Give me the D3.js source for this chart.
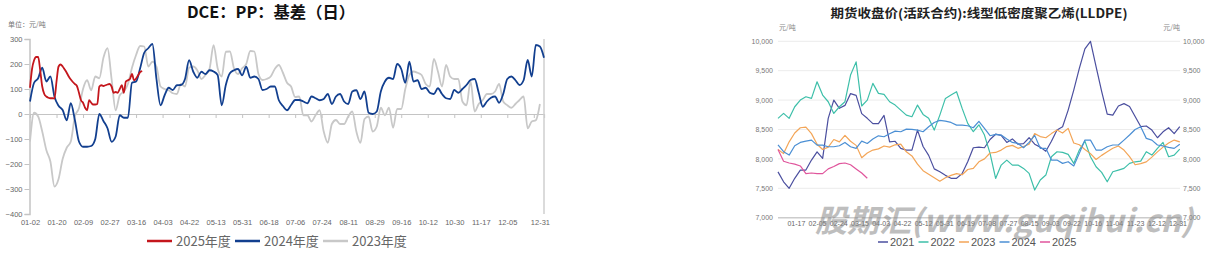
<!DOCTYPE html>
<html>
<head>
<meta charset="utf-8">
<script src="https://cdn.jsdelivr.net/npm/d3@7/dist/d3.min.js"></script>
<style>
body { margin: 0; background: #fff; }
svg { display: block; font-family: "Liberation Sans", Arial, sans-serif; }
</style>
</head>
<body>
<div id="chart"></div>
<script>
// ---- left chart: DCE PP basis, x = trading day index
var basisLabels = ["01-02", "01-20", "02-09", "02-27", "03-16", "04-03", "04-22", "05-13", "05-31", "06-18",
	"07-06", "07-24", "08-11", "08-29", "09-16", "10-12", "10-30", "11-17", "12-05", "12-31"];
var basisYTicks = [-400, -300, -200, -100, 0, 100, 200, 300];
var basisYears = ["2025年度", "2024年度", "2023年度"];

// 2025: one value per trading day
var basis2025 = [105, 180, 215, 228, 228, 175, 110, 80, 70, 65, 63, 63, 62, 130, 190, 198, 190, 178, 165, 150,
	138, 128, 120, 112, 85, 55, 45, 25, 15, 55, 45, 38, 38, 40, 110, 115, 112, 115, 118, 120,
	110, 85, 88, 85, 100, 115, 85, 130, 135, 140, 160, 135, 142, 155, 168, 172];
// 2024 / 2023: one value every 2 trading days
var basis2024 = [50, 125, 143, 185, 130, 150, 69, 33, 16, -25, 43, -24, -110, -131, -131, -128, -100, 0, -28, -57,
	-111, -90, -5, -15, -15, 125, 130, 183, 245, 263, 280, 140, 35, 75, 105, 96, 115, 116, 140, 215,
	170, 145, 169, 160, 175, 170, 156, 35, 116, 163, 175, 180, 155, 189, 145, 150, 140, 96, 100, 110,
	110, 55, 32, 15, 36, 56, 56, 50, 43, 70, 63, 55, 60, 80, 40, 70, 80, 50, 40, 90,
	95, 60, 90, 5, 0, 10, 90, 130, 145, 140, 200, 180, 125, 209, 130, 135, 100, 105, 85, 80,
	103, 80, 63, 60, 96, 85, 100, 116, 136, 140, 85, 29, 50, 65, 70, 45, 80, 140, 150, 135,
	116, 135, 216, 150, 276, 270, 225];
var basis2023 = [-110, 5, -10, -70, -144, -190, -290, -260, -180, -135, -110, -10, 23, 100, 135, 95, 150, 143, 225, 263,
	140, 15, 75, 90, 120, 185, 236, 272, 270, 190, 209, 190, 110, 100, 95, 83, 80, 120, 110, 185,
	190, 175, 140, 156, 180, 275, 183, 150, 249, 250, 183, 160, 183, 200, 252, 250, 160, 136, 140, 150,
	180, 196, 165, 125, 110, 68, 70, -5, -5, -30, -5, 15, -70, -115, -40, -24, -40, -40, -10, 10,
	-70, -115, -20, -10, -70, -50, 25, -5, 25, -55, 20, 20, 100, 156, 170, 165, 156, 120, 110, 220,
	170, 110, 196, 150, 140, 140, 50, 35, 130, 10, 40, 56, 80, 80, 90, 120, 50, 35, 25, 40,
	56, 70, -57, -30, -25, 40];

// ---- right chart: LLDPE active contract close, x = day of year, one value every 5 days
var priceLabels = ["01-17", "02-05", "02-24", "03-15", "04-03", "04-22", "05-12", "05-31", "06-19", "07-08",
	"07-27", "08-15", "09-03", "09-22", "10-16", "11-04", "11-23", "12-12", "12-31"];
var priceYTicks = [7000, 7500, 8000, 8500, 9000, 9500, 10000];
var priceYears = ["2021", "2022", "2023", "2024", "2025"];
var price2021 = [7780, 7610, 7500, 7670, 7810, 7810, 7980, 8120, 8010, 8690, 9000, 8860, 8910, 9110, 9080, 8770, 8690, 8600,
	8600, 8740, 8290, 8300, 8180, 8150, 8150, 8490, 8210, 8060, 7830, 7780, 7720, 7670, 7670, 7750, 7950, 8190,
	8200, 8190, 8330, 8420, 8400, 8280, 8340, 8250, 8260, 8360, 8250, 8200, 8130, 8300, 8490, 8547, 8830, 9170,
	9540, 9870, 10000, 9570, 9150, 8760, 8745, 8900, 8940, 8890, 8720, 8550, 8560, 8490, 8360, 8460, 8530, 8430, 8550];
var price2022 = [8690, 8774, 8690, 8887, 9000, 9057, 9029, 9312, 9085, 8972, 8774, 8887, 8972, 9426, 9650, 8900, 9000, 9284,
	9114, 9097, 8972, 8915, 8830, 8745, 8717, 8915, 8757, 8690, 8490, 8745, 9029, 9085, 9142, 8859, 8604, 8462,
	8580, 8405, 8093, 7668, 7895, 7980, 7895, 7895, 7838, 7753, 7470, 7640, 7725, 8037, 8122, 8110, 8076, 7923,
	8150, 8303, 8037, 7866, 7770, 7611, 7781, 7810, 7838, 7923, 7951, 7963, 8122, 8065, 8178, 8280, 8037, 8065, 8167];
var price2023 = [8160, 8090, 8290, 8440, 8530, 8540, 8430, 8250, 8160, 8200, 8330, 8290, 8400, 8300, 8230, 8020, 8100, 8150,
	8170, 8220, 8200, 8240, 8250, 8120, 8050, 7910, 7800, 7740, 7680, 7620, 7680, 7720, 7750, 7730, 7820, 7840,
	7950, 8000, 8100, 8110, 8150, 8210, 8230, 8180, 8210, 8250, 8430, 8380, 8360, 8430, 8490, 8440, 8519, 8270,
	8240, 8160, 8090, 7990, 8060, 8120, 8180, 8220, 8150, 8040, 7900, 7920, 7950, 8030, 8120, 8200, 8270, 8320, 8290];
var price2024 = [8240, 8122, 8065, 8224, 8280, 8303, 8320, 8235, 8235, 8207, 8207, 8224, 8280, 8207, 8178, 8303, 8263, 8337,
	8393, 8377, 8428, 8473, 8462, 8507, 8501, 8490, 8462, 8547, 8620, 8655, 8643, 8620, 8575, 8575, 8564, 8530,
	8640, 8520, 8394, 8417, 8405, 8337, 8280, 8263, 8190, 8280, 8400, 8180, 8180, 7980, 7980, 7924, 7952, 7880,
	8094, 8320, 8320, 8150, 8150, 8207, 8236, 8236, 8320, 8406, 8500, 8548, 8349, 8320, 8236, 8220, 8196, 8179, 8250];
var price2025 = [8160, 7960, 7930, 7910, 7880, 7750, 7760, 7750, 7750, 7830, 7870, 7920, 7930, 7900, 7830, 7760, 7670];

var svg = d3.select("#chart").append("svg")
	.attr("width", 1213)
	.attr("height", 253);

var styleAxisText = function(_g, _size, _color)	{
	_g.selectAll("text")
	.style("font-size", _size)
	.style("fill", _color)
	.style("font-family", "\"Liberation Sans\", Arial, sans-serif");
}

// ================= left chart =================
var bx = d3.scaleLinear().domain([0, 252]).range([30, 544]);
var by = d3.scaleLinear().domain([-400, 300]).range([214, 39]);

var tickIdx = function(_i)	{
	return _i === basisLabels.length - 1 ? 250 : _i * 13;
}

svg.append("text")
.attr("x", 271)
.attr("y", 18)
.attr("text-anchor", "middle")
.style("font-family", "\"Noto Sans CJK SC\", sans-serif")
.style("font-weight", "bold")
.style("font-size", "16px")
.attr("textLength", 168)
.attr("lengthAdjust", "spacingAndGlyphs")
.style("fill", "#111")
.text("DCE：PP：基差（日）");

svg.append("text")
.attr("x", 8)
.attr("y", 27)
.style("font-family", "\"Noto Sans CJK SC\", sans-serif")
.style("font-size", "7px")
.style("fill", "#777")
.text("单位：元/吨");

var yAxisL = svg.append("g")
.attr("transform", "translate(29.5, 0)")
.call(d3.axisLeft(by).tickValues(basisYTicks).tickSize(5).tickPadding(2));
yAxisL.select(".domain").attr("stroke", "#c4c4c4").attr("stroke-width", 1.5);
yAxisL.selectAll(".tick line").attr("stroke", "#c4c4c4");
styleAxisText(yAxisL, "7.5px", "#666");

var xTicksL = d3.range(0, 20).map(function(_k) { return _k * 13; });
var xAxisL = svg.append("g")
.attr("transform", "translate(0, " + by(0) + ")")
.call(d3.axisBottom(bx).tickValues(xTicksL).tickSize(4).tickFormat(""));
xAxisL.select(".domain").attr("stroke", "#c4c4c4").attr("stroke-width", 1.2);
xAxisL.selectAll(".tick line").attr("stroke", "#c4c4c4");

var xLabelsL = svg.append("g")
.attr("transform", "translate(0, 218)")
.call(d3.axisBottom(bx)
	.tickValues(basisLabels.map(function(_d, _i) { return tickIdx(_i); }))
	.tickSize(0)
	.tickPadding(2)
	.tickFormat(function(_d, _i) { return basisLabels[_i]; }));
xLabelsL.select(".domain").remove();
styleAxisText(xLabelsL, "7.5px", "#666");

svg.append("line")
.attr("x1", bx(252)).attr("x2", bx(252))
.attr("y1", by(300)).attr("y2", by(-400))
.attr("stroke", "#cfcfcf")
.attr("stroke-width", 1.5);

var basisLine = function(_step)	{
	return d3.line()
	.x(function(_d, _i) { return bx(_i * _step); })
	.y(function(_d) { return by(_d); })
	.curve(d3.curveMonotoneX);
}

var basisSeries = [
	{ name: basisYears[2], values: basis2023, step: 2, color: "#c8c8c8" },
	{ name: basisYears[1], values: basis2024, step: 2, color: "#123f8f" },
	{ name: basisYears[0], values: basis2025, step: 1, color: "#c4161c" }
];

basisSeries.forEach(function(_s)	{
	svg.append("path")
	.datum(_s.values)
	.attr("fill", "none")
	.attr("stroke", _s.color)
	.attr("stroke-width", 1.8)
	.attr("stroke-linejoin", "round")
	.attr("d", basisLine(_s.step));
});

var legendL = svg.selectAll(".legendL")
.data(basisSeries.slice().reverse())
.enter().append("g")
.attr("class", "legendL")
.attr("transform", function(_d, _i) { return "translate(" + (147 + _i * 88) + ", 241)"; });

legendL.append("line")
.attr("x1", 0).attr("x2", 25)
.attr("y1", 0).attr("y2", 0)
.attr("stroke", function(_d) { return _d.color; })
.attr("stroke-width", 2.5);

legendL.append("text")
.attr("x", 29)
.attr("y", 4.5)
.style("font-family", "\"Noto Sans CJK SC\", sans-serif")
.style("font-size", "13px")
.style("fill", "#666")
.text(function(_d) { return _d.name; });

// ================= right chart =================
var px = d3.scaleLinear().domain([0, 362]).range([778, 1182]);
var py = d3.scaleLinear().domain([7000, 10000]).range([217.7, 41.3]);

svg.append("text")
.attr("x", 979)
.attr("y", 18)
.attr("text-anchor", "middle")
.style("font-family", "\"Noto Sans CJK SC\", sans-serif")
.style("font-weight", "bold")
.style("font-size", "12.5px")
.attr("textLength", 297)
.attr("lengthAdjust", "spacingAndGlyphs")
.style("fill", "#222")
.text("期货收盘价(活跃合约):线型低密度聚乙烯(LLDPE)");

svg.append("text")
.attr("x", 779)
.attr("y", 30)
.style("font-family", "\"Noto Sans CJK SC\", sans-serif")
.style("font-size", "7px")
.style("fill", "#888")
.text("元/吨");

svg.append("text")
.attr("x", 1180)
.attr("y", 30)
.attr("text-anchor", "end")
.style("font-family", "\"Noto Sans CJK SC\", sans-serif")
.style("font-size", "7px")
.style("fill", "#888")
.text("元/吨");

svg.selectAll(".grid")
.data(priceYTicks)
.enter().append("line")
.attr("class", "grid")
.attr("x1", 778).attr("x2", 1180)
.attr("y1", function(_d) { return py(_d); })
.attr("y2", function(_d) { return py(_d); })
.attr("stroke", function(_d) { return _d === 7000 ? "#cccccc" : "#ececec"; })
.attr("stroke-width", function(_d) { return _d === 7000 ? 1.5 : 1; });

var yAxisR1 = svg.append("g")
.attr("transform", "translate(775, 0)")
.call(d3.axisLeft(py).tickValues(priceYTicks).tickSize(0).tickPadding(2).tickFormat(d3.format(",")));
yAxisR1.select(".domain").remove();
styleAxisText(yAxisR1, "7px", "#777");

var yAxisR2 = svg.append("g")
.attr("transform", "translate(1181, 0)")
.call(d3.axisRight(py).tickValues(priceYTicks).tickSize(0).tickPadding(2).tickFormat(d3.format(",")));
yAxisR2.select(".domain").remove();
styleAxisText(yAxisR2, "7px", "#777");

var xAxisR = svg.append("g")
.attr("transform", "translate(0, 219)")
.call(d3.axisBottom(px)
	.tickValues(priceLabels.map(function(_d, _i) { return 16 + _i * 19; }))
	.tickSize(0)
	.tickPadding(2)
	.tickFormat(function(_d, _i) { return priceLabels[_i]; }));
xAxisR.select(".domain").remove();
styleAxisText(xAxisR, "7px", "#666");

var priceLine = d3.line()
.x(function(_d, _i) { return px(_i * 5); })
.y(function(_d) { return py(_d); });

var priceSeries = [
	{ name: priceYears[0], values: price2021, color: "#4b4f9f" },
	{ name: priceYears[1], values: price2022, color: "#3dbfa9" },
	{ name: priceYears[2], values: price2023, color: "#f3a557" },
	{ name: priceYears[3], values: price2024, color: "#4b8fd4" },
	{ name: priceYears[4], values: price2025, color: "#e0559c" }
];

priceSeries.forEach(function(_s)	{
	svg.append("path")
	.datum(_s.values)
	.attr("fill", "none")
	.attr("stroke", _s.color)
	.attr("stroke-width", 1.2)
	.attr("stroke-linejoin", "round")
	.attr("d", priceLine);
});

var legendR = svg.selectAll(".legendR")
.data(priceSeries)
.enter().append("g")
.attr("class", "legendR")
.attr("transform", function(_d, _i) { return "translate(" + (878 + _i * 40.5) + ", 242)"; });

legendR.append("line")
.attr("x1", 0).attr("x2", 10)
.attr("y1", 0).attr("y2", 0)
.attr("stroke", function(_d) { return _d.color; })
.attr("stroke-width", 1.5);

legendR.append("text")
.attr("x", 12)
.attr("y", 4)
.style("font-family", "\"Liberation Sans Narrow\", \"Liberation Sans\", Arial, sans-serif")
.style("font-size", "11px")
.style("fill", "#555")
.text(function(_d) { return _d.name; });

// watermark over the right chart
svg.append("text")
.attr("x", 815)
.attr("y", 232)
.style("font-family", "\"Noto Sans CJK SC\", \"Liberation Sans\", sans-serif")
.style("font-weight", "bold")
.style("font-style", "italic")
.style("font-size", "31px")
.attr("textLength", 378)
.attr("lengthAdjust", "spacingAndGlyphs")
.style("fill", "#8a8a8a")
.style("opacity", 0.55)
.text("股期汇(www.guqihui.cn)");
</script>
</body>
</html>
